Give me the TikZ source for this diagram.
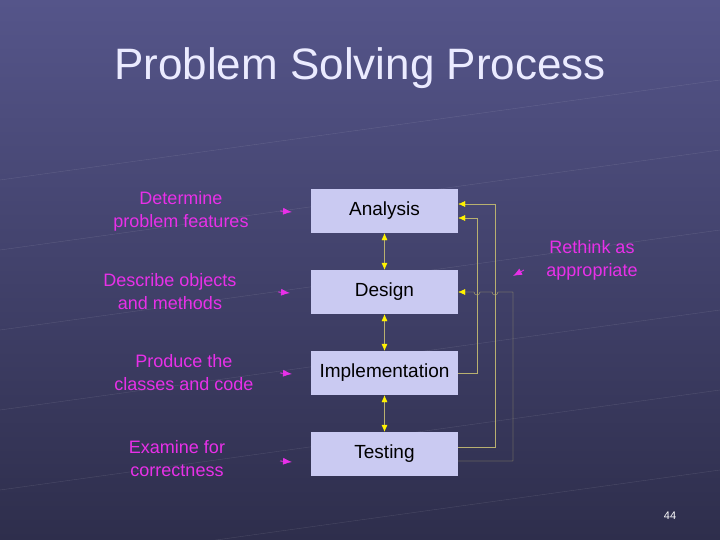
\documentclass[tikz,border=0pt]{standalone}
\usepackage{fontspec}
\setmainfont{Liberation Sans}
\usetikzlibrary{positioning,arrows.meta}
\definecolor{bgtop}{HTML}{55558A}
\definecolor{bgbot}{HTML}{2E2E4C}
\definecolor{boxfill}{HTML}{CACAF2}
\definecolor{pinktext}{HTML}{E830E8}
\definecolor{linkline}{HTML}{B8B070}
\tikzset{
  stage/.style={draw=none, fill=boxfill, minimum width=147pt, minimum height=44pt, font=\fontsize{19}{21}\selectfont, text=black},
  note/.style={pinktext, align=center, font=\fontsize{18}{23}\selectfont},
  pointer/.style={-{Latex[length=9pt,width=7pt]}, pinktext, thick},
  link/.style={linkline, thin, -{Latex[length=7pt,width=6pt,yellow]}},
  pair/.style={linkline, thin, {Latex[length=7pt,width=6pt,yellow]}-{Latex[length=7pt,width=6pt,yellow]}}
}
\begin{document}
\begin{tikzpicture}[x=1pt, y=-1pt]
% Background
    \shade[top color=bgtop, bottom color=bgbot] (0,0) rectangle (720,540);
    \useasboundingbox (0,0) rectangle (720,540);
    \foreach \y in {120,190,270,350,430,510}
        \draw[white, opacity=0.12] (0,\y+60) -- (720,\y-40);
% Title
    \node[text=white!92!blue, font=\fontsize{44}{48}\selectfont] (title) at (360,68) {Problem Solving Process};
% Stages
    \node[stage] (analysis) at (384.5,211) {Analysis};
    \node[stage] (design) at (384.5,292) {Design};
    \node[stage] (impl) at (384.5,373) {Implementation};
    \node[stage] (testing) at (384.5,454) {Testing};
    \draw[pair] (analysis) -- (design);
    \draw[pair] (design) -- (impl);
    \draw[pair] (impl) -- (testing);
% Feedback
    \draw[link] (impl.east) -- (477,373) -- (477,218) -- ([yshift=-7pt]analysis.east);
    \draw[link] ([yshift=7pt]testing.east) -- (495,447) -- (495,204) -- ([yshift=7pt]analysis.east);
    \draw[link] ([yshift=-7pt]testing.east) -- (513,461) -- (513,292) -- (498,292) arc(0:180:3) -- (480,292) arc(0:180:3) -- (design.east);
% Notes
    \node[note] (determine) at (181,211) {Determine\\problem features};
    \node[note] (describe) at (170,292) {Describe objects\\and methods};
    \node[note] (produce) at (184,373) {Produce the\\classes and code};
    \node[note] (examine) at (177,459) {Examine for\\correctness};
    \node[note] (rethink) at (592,260) {Rethink as\\appropriate};
    \coordinate (p1) at (280,211);
    \coordinate (p2) at (278,292);
    \coordinate (p3) at (280,373);
    \coordinate (p4) at (280,461);
    \draw[pointer] (p1) -- ++(12,1);
    \draw[pointer] (p2) -- ++(12,1);
    \draw[pointer] (p3) -- ++(12,1);
    \draw[pointer] (p4) -- ++(12,1);
    \coordinate (r0) at (524,270);
    \draw[pointer] (r0) -- ++(-11,6);
% Page number
    \node[text=white, font=\fontsize{11}{12}\selectfont] (page) at (670,516) {44};
\end{tikzpicture}
\end{document}
